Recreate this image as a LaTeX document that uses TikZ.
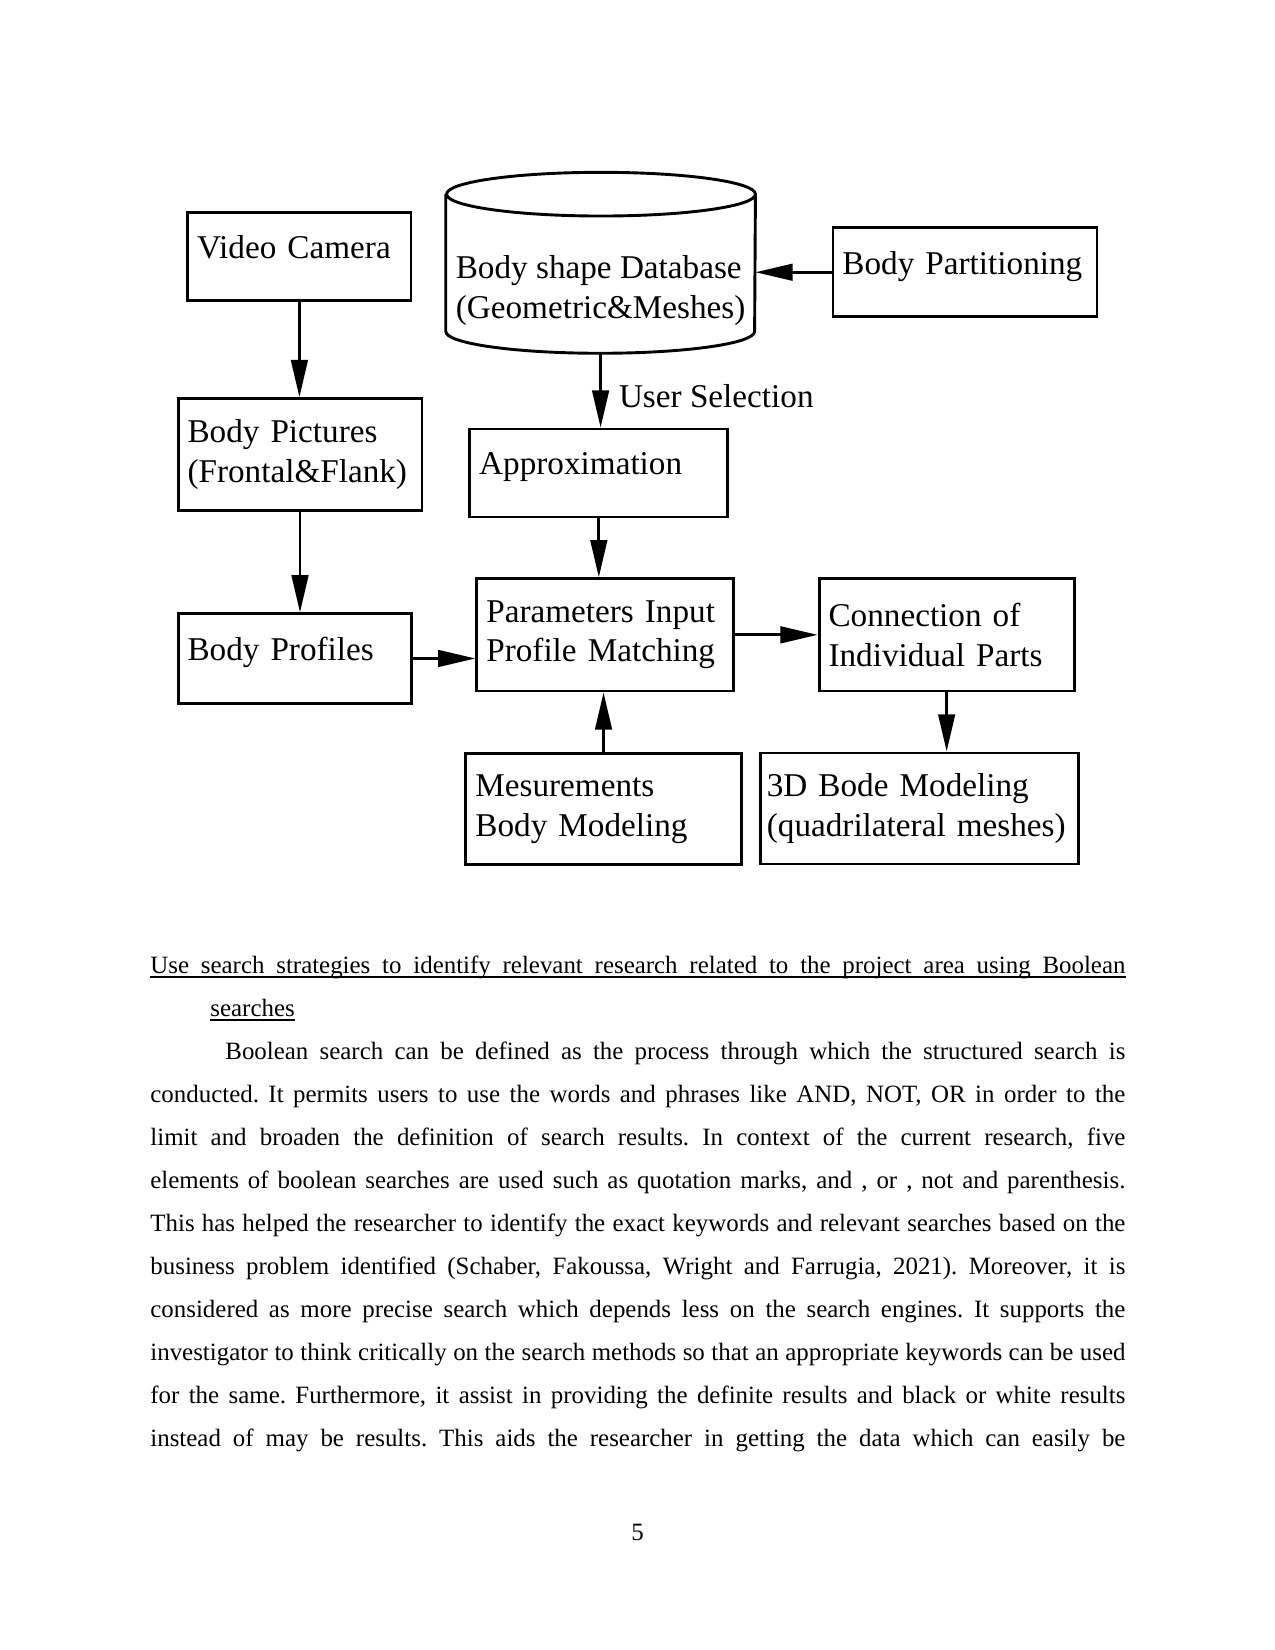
\documentclass[tikz,border=0pt]{standalone}
\usepackage{fontspec}
\setmainfont{Liberation Serif}
\usetikzlibrary{arrows.meta,positioning}
\frenchspacing

\begin{document}
\begin{tikzpicture}[
  box/.style={
    draw, line width=1.4pt, inner xsep=0.16cm, align=left,
    font=\fontsize{16pt}{19pt}\selectfont
  },
  oneline/.style={text depth=0.32cm},
  arr/.style={
    line width=1.4pt, -{Triangle[length=6.3mm,width=2.8mm]}
  },
  bodytext/.style={
    text width=16.51cm, align=justify, inner sep=0pt, anchor=base west,
    font=\fontsize{12pt}{20.7pt}\selectfont
  },
  headline/.style={
    inner sep=0pt, anchor=base west, font=\fontsize{12pt}{20.7pt}\selectfont
  },
  uline/.style={line width=0.7pt},
]

% Page
\path[fill=white, use as bounding box] (0,0) rectangle (21.59,-27.94);

% Left column
\node[box, oneline, text width=3.46cm, minimum height=1.49cm] (cam) at (5.07,-4.35) {Video Camera};
\node[box, text width=3.81cm, minimum height=1.90cm] (pics) at (5.08,-7.70) {Body Pictures\\(Frontal\&Flank)};
\node[box, oneline, text width=3.63cm, minimum height=1.51cm] (prof) at (4.99,-11.15) {Body Profiles};

% Database cylinder
\node[minimum width=5.23cm, minimum height=3.05cm, inner sep=0pt] (db) at (10.17,-4.45) {};
\draw[line width=1.4pt] ([yshift=-0.37cm]db.north west) -- ([yshift=0.37cm]db.south west)
  arc[start angle=180, end angle=360, x radius=2.615cm, y radius=0.37cm]
  -- ([yshift=-0.37cm]db.north east)
  arc[start angle=0, end angle=360, x radius=2.615cm, y radius=0.37cm];
\node[align=left, font=\fontsize{16pt}{19pt}\selectfont] (dbtxt) at ([yshift=-0.47cm]db.center) {Body shape Database\\(Geometric\&Meshes)};

% Middle column
\node[box, oneline, text width=4.05cm, minimum height=1.49cm] (approx) at (10.14,-8.01) {Approximation};
\node[box, text width=4.03cm, minimum height=1.90cm] (match) at (10.25,-10.75) {Parameters Input\\Profile Matching};
\node[box, text width=4.34cm, minimum height=1.88cm] (meas) at (10.22,-13.70) {Mesurements\\Body Modeling};

% Right column
\node[box, oneline, text width=4.15cm, minimum height=1.51cm] (part) at (16.34,-4.61) {Body Partitioning};
\node[box, text width=4.00cm, minimum height=1.90cm] (conn) at (16.03,-10.75) {Connection of\\Individual Parts};
\node[box, inner xsep=0.1cm, text width=5.17cm, minimum height=1.88cm] (model) at (15.57,-13.69) {3D Bode Modeling\\(quadrilateral meshes)};

% Arrows
\draw[arr] (cam.south) -- (cam.south |- pics.north);
\draw[arr] (pics.south) -- (pics.south |- prof.north);
\draw[arr] (prof.east) -- (prof.east -| match.west);
\draw[arr] (part.west) -- (part.west -| db.east);
\draw[arr] (db.south) -- node[right=0.17cm, yshift=-0.09cm, font=\fontsize{16pt}{19pt}\selectfont] (sel) {User Selection} (db.south |- approx.north);
\draw[arr] (approx.south) -- (approx.south |- match.north);
\draw[arr] (meas.north) -- (meas.north |- match.south);
\draw[arr] (match.east) -- (match.east -| conn.west);
\draw[arr] (conn.south) -- (conn.south |- model.north);

% Underlined heading
\node[headline] (head1) at (2.54,-16.49) {\makebox[16.51cm][s]{Use search strategies to identify relevant research related to the project area using Boolean}};
\node[headline] (head2) at ([xshift=0.4in, yshift=-20.7pt]head1.base west) {searches};
\draw[uline] ([yshift=-1.6pt]head1.base west) -- ([yshift=-1.6pt]head1.base east);
\draw[uline] ([yshift=-1.6pt]head2.base west) -- ([yshift=-1.6pt]head2.base east);

% Text below the figure
\node[bodytext] (para) at ([yshift=-41.4pt]head1.base west) {%
  \hspace*{0.5in}Boolean search can be defined as the process through which the structured search is\linebreak
  conducted. It permits users to use the words and phrases like AND, NOT, OR in order to the\linebreak
  limit and broaden the definition of search results. In context of the current research, five\linebreak
  elements of boolean searches are used such as quotation marks, and , or , not and parenthesis.\linebreak
  This has helped the researcher to identify the exact keywords and relevant searches based on the\linebreak
  business problem identified (Schaber, Fakoussa, Wright and Farrugia, 2021). Moreover, it is\linebreak
  considered as more precise search which depends less on the search engines. It supports the\linebreak
  investigator to think critically on the search methods so that an appropriate keywords can be used\linebreak
  for the same. Furthermore, it assist in providing the definite results and black or white results\linebreak
  instead of may be results. This aids the researcher in getting the data which can easily be\parfillskip=0pt\par
};

% Page number
\node[anchor=base, font=\fontsize{12pt}{14pt}\selectfont] (pagenum) at (10.795,-26.08) {5};

\end{tikzpicture}
\end{document}
